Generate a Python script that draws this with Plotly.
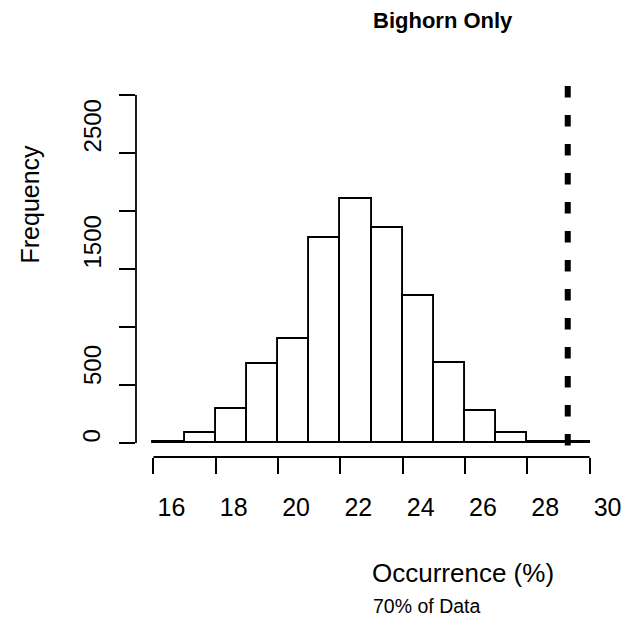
import plotly.graph_objects as go

# ---- data ----
bin_lefts = [16, 17, 18, 19, 20, 21, 22, 23, 24, 25, 26, 27, 28, 29]
counts = [12, 84, 293, 678, 899, 1769, 2100, 1855, 1267, 692, 278, 84, 12, 10]
bin_width = 1
observed_value = 29.3
x_ticks = [16, 18, 20, 22, 24, 26, 28, 30]
y_ticks = [0, 500, 1000, 1500, 2000, 2500, 3000]
y_labeled = [0, 500, 1500, 2500]
title_text = "Bighorn Only"
x_title = "Occurrence (%)"
y_title = "Frequency"
sub_text = "70% of Data"

FONT = "Liberation Sans, Arial, sans-serif"
OFF = 8  # default page body margin
W, H = 631 - OFF, 621 - OFF
ML, MR, MT, MB = 136 - OFF, 24, 81 - OFF, 164
PW = W - ML - MR
PH = H - MT - MB


def px_y(p):
    return (H - MB - (p - OFF)) / PH


def px_x(p):
    return ((p - OFF) - ML) / PW


centers = [b + bin_width / 2 for b in bin_lefts]

fig = go.Figure()
fig.add_trace(go.Bar(
    x=centers, y=counts, width=bin_width,
    marker=dict(color="white", line=dict(color="black", width=1.9)),
    showlegend=False, hoverinfo="skip",
))

xr = [x_ticks[0] - 0.04 * (x_ticks[-1] - x_ticks[0]), x_ticks[-1] + 0.04 * (x_ticks[-1] - x_ticks[0])]
yr = [y_ticks[0] - 0.04 * (y_ticks[-1] - y_ticks[0]), y_ticks[-1] + 0.04 * (y_ticks[-1] - y_ticks[0])]

shapes = [
    # x axis line
    dict(type="line", xref="x", yref="paper", x0=x_ticks[0], x1=x_ticks[-1], y0=0, y1=0,
         line=dict(color="black", width=1.8)),
    # y axis line
    dict(type="line", xref="paper", yref="y", x0=0, x1=0, y0=y_ticks[0], y1=y_ticks[-1],
         line=dict(color="black", width=1.8)),
    # observed value dotted line
    dict(type="line", xref="x", yref="paper", x0=observed_value, x1=observed_value, y0=1, y1=-0.006,
         line=dict(color="black", width=6, dash="0px,5px,11.5px,12.5px"), layer="above"),
]

annotations = []
for v in y_labeled:
    annotations.append(dict(
        text=str(v), x=0, xref="paper", xshift=-44, xanchor="center",
        y=v, yref="y", yanchor="bottom", yshift=-2, textangle=-90, showarrow=False,
        font=dict(family=FONT, size=24, color="black"),
    ))
annotations += [
    dict(text="<b>" + title_text + "</b>", x=0.5, xref="paper", xanchor="left", xshift=-1,
         y=px_y(20), yref="paper", yanchor="middle", showarrow=False,
         font=dict(family=FONT, size=22, color="black")),
    dict(text=x_title, x=0.5, xref="paper", xanchor="left", xshift=-2,
         y=px_y(573), yref="paper", yanchor="middle", showarrow=False,
         font=dict(family=FONT, size=26, color="black")),
    dict(text=sub_text, x=0.5, xref="paper", xanchor="left", xshift=-1,
         y=px_y(606), yref="paper", yanchor="middle", showarrow=False,
         font=dict(family=FONT, size=19.5, color="black")),
    dict(text=y_title, x=px_x(29), xref="paper", xanchor="center",
         y=0.5, yref="paper", yanchor="bottom", yshift=3, textangle=-90, showarrow=False,
         font=dict(family=FONT, size=25, color="black")),
]

fig.update_layout(
    width=W, height=H,
    margin=dict(l=ML, r=MR, t=MT, b=MB, autoexpand=False),
    plot_bgcolor="white", paper_bgcolor="white",
    bargap=0,
    shapes=shapes, annotations=annotations,
    xaxis=dict(range=xr, tickvals=x_ticks, ticktext=[str(t) for t in x_ticks],
               ticks="outside", ticklen=16, tickwidth=1.8, tickcolor="black",
               showline=False, showgrid=False, zeroline=False,
               ticklabelshift=18, ticklabelstandoff=12,
               tickfont=dict(family=FONT, size=25, color="black")),
    yaxis=dict(range=yr, tickvals=y_ticks, showticklabels=False,
               ticks="outside", ticklen=16, tickwidth=1.8, tickcolor="black",
               showline=False, showgrid=False, zeroline=False),
)

fig.write_html("out.html")
